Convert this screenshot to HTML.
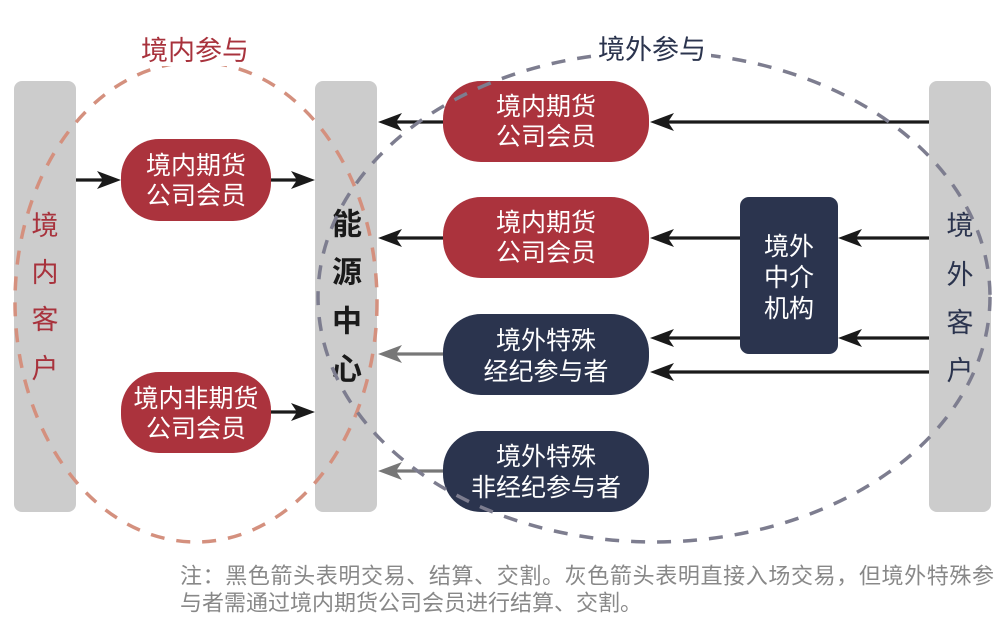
<!DOCTYPE html>
<html><head><meta charset="utf-8"><style>
html,body{margin:0;padding:0;background:#fff;}
svg{display:block;}
text{font-family:"Liberation Sans","Noto Sans CJK SC",sans-serif;}
</style></head><body>
<svg width="1006" height="620" viewBox="0 0 1006 620" xmlns="http://www.w3.org/2000/svg">
<!-- bars -->
<rect x="14" y="81" width="62" height="431" rx="8" fill="#cccccc"/>
<rect x="315" y="81" width="62" height="431" rx="8" fill="#cccccc"/>
<rect x="929" y="81" width="62" height="431" rx="8" fill="#cccccc"/>

<!-- bar labels -->
<g fill="#a8323c" font-size="27" text-anchor="middle" dominant-baseline="central">
<text x="45" y="226">境</text><text x="45" y="273">内</text><text x="45" y="320">客</text><text x="45" y="369">户</text>
</g>
<g fill="#1a1a1a" font-size="30" font-weight="bold" text-anchor="middle" dominant-baseline="central">
<text x="347" y="225">能</text><text x="347" y="273">源</text><text x="347" y="322">中</text><text x="347" y="370">心</text>
</g>
<g fill="#2b344e" font-size="27" text-anchor="middle" dominant-baseline="central">
<text x="960" y="226">境</text><text x="960" y="275">外</text><text x="960" y="323">客</text><text x="960" y="371">户</text>
</g>

<!-- arrows black -->
<g stroke="#1a1a1a" stroke-width="3.2">
<line x1="76" y1="180" x2="103" y2="180"/>
<line x1="271" y1="180" x2="297" y2="180"/>
<line x1="271" y1="412" x2="297" y2="412"/>
<line x1="443" y1="122" x2="396" y2="122"/>
<line x1="929" y1="122" x2="668" y2="122"/>
<line x1="443" y1="238" x2="396" y2="238"/>
<line x1="740" y1="238" x2="668" y2="238"/>
<line x1="929" y1="238" x2="856" y2="238"/>
<line x1="740" y1="338" x2="668" y2="338"/>
<line x1="929" y1="338" x2="856" y2="338"/>
<line x1="929" y1="372" x2="668" y2="372"/>
</g>
<g fill="#1a1a1a">
<path d="M121 180 L97 171 L103 180 L97 189 Z"/>
<path d="M315 180 L291 171 L297 180 L291 189 Z"/>
<path d="M315 412 L291 403 L297 412 L291 421 Z"/>
<path d="M378 122 L402 113 L396 122 L402 131 Z"/>
<path d="M650 122 L674 113 L668 122 L674 131 Z"/>
<path d="M378 238 L402 229 L396 238 L402 247 Z"/>
<path d="M650 238 L674 229 L668 238 L674 247 Z"/>
<path d="M838 238 L862 229 L856 238 L862 247 Z"/>
<path d="M650 338 L674 329 L668 338 L674 347 Z"/>
<path d="M838 338 L862 329 L856 338 L862 347 Z"/>
<path d="M650 372 L674 363 L668 372 L674 381 Z"/>
</g>
<!-- arrows gray -->
<g stroke="#777777" stroke-width="3.2">
<line x1="443" y1="354" x2="396" y2="354"/>
<line x1="443" y1="471" x2="396" y2="471"/>
</g>
<g fill="#777777">
<path d="M378 354 L402 345 L396 354 L402 363 Z"/>
<path d="M378 471 L402 462 L396 471 L402 480 Z"/>
</g>

<!-- boxes -->
<rect x="121" y="139" width="150" height="82" rx="38" fill="#ab333d"/>
<rect x="121" y="372" width="150" height="81" rx="38" fill="#ab333d"/>
<rect x="443" y="81" width="206" height="81" rx="38" fill="#ab333d"/>
<rect x="443" y="197" width="206" height="81" rx="38" fill="#ab333d"/>
<rect x="443" y="314" width="206" height="81" rx="38" fill="#2b344e"/>
<rect x="443" y="431" width="206" height="81" rx="38" fill="#2b344e"/>
<rect x="740" y="197" width="98" height="157" rx="9" fill="#2b344e"/>

<g fill="#ffffff" font-size="25" text-anchor="middle" dominant-baseline="central">
<text x="196" y="166">境内期货</text><text x="196" y="196">公司会员</text>
<text x="196" y="399">境内非期货</text><text x="196" y="429">公司会员</text>
<text x="546" y="107">境内期货</text><text x="546" y="137">公司会员</text>
<text x="546" y="223">境内期货</text><text x="546" y="253">公司会员</text>
<text x="546" y="341">境外特殊</text><text x="546" y="372">经纪参与者</text>
<text x="546" y="457">境外特殊</text><text x="546" y="488">非经纪参与者</text>
<text x="789" y="247">境外</text><text x="789" y="278">中介</text><text x="789" y="309">机构</text>
</g>

<!-- dashed ellipses -->
<ellipse cx="196" cy="302" rx="181" ry="240" fill="none" stroke="#d4907e" stroke-width="3.5" stroke-dasharray="14 12"/>
<ellipse cx="654" cy="297" rx="336" ry="245" fill="none" stroke="#7d7d8f" stroke-width="3.5" stroke-dasharray="14 12"/>

<!-- top labels -->
<rect x="137" y="34" width="116" height="32" fill="#ffffff"/>
<text x="195" y="51" fill="#a8323c" font-size="27" text-anchor="middle" dominant-baseline="central">境内参与</text>
<rect x="593" y="33" width="118" height="32" fill="#ffffff"/>
<text x="652" y="50" fill="#2b344e" font-size="27" text-anchor="middle" dominant-baseline="central">境外参与</text>

<!-- footnote -->
<text x="180" y="576" fill="#888888" font-size="22" dominant-baseline="central" textLength="814" lengthAdjust="spacing">注：黑色箭头表明交易、结算、交割。灰色箭头表明直接入场交易，但境外特殊参</text>
<text x="180" y="603" fill="#888888" font-size="22" dominant-baseline="central">与者需通过境内期货公司会员进行结算、交割。</text>
</svg>
</body></html>
